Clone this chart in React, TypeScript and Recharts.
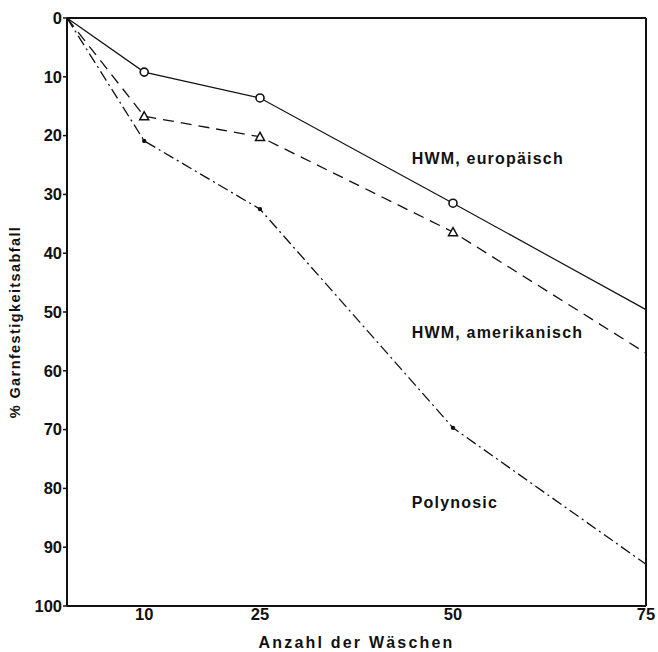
import { LineChart, Line, XAxis, YAxis, ReferenceDot, ReferenceLine, Label } from 'recharts'

const waschen = [0, 10, 25, 50, 75]
const europaeisch = [0, 9.2, 13.6, 31.5, 49.6]
const amerikanisch = [0, 16.7, 20.2, 36.4, 57]
const polynosic = [0, 20.9, 32.5, 69.7, 92.9]

const xTicks = [10, 25, 50, 75]
const yTicks = [0, 10, 20, 30, 40, 50, 60, 70, 80, 90, 100]

const data = waschen.map((w, i) => ({
  w,
  eu: europaeisch[i],
  am: amerikanisch[i],
  po: polynosic[i],
}))

const ink = '#111'
const font = '"Liberation Sans", Arial, sans-serif'

const tickStyle = { fill: ink, fontSize: 16.5, fontWeight: 700, fontFamily: font }
const labelStyle = { fill: ink, fontSize: 16, fontWeight: 700, fontFamily: font, letterSpacing: 1.2 }

// no marker at the origin or on the right border
const hidden = (i: number) => i === 0 || i === waschen.length - 1

const CircleDot = (props: any) => {
  const { cx, cy, index } = props
  if (hidden(index)) return <g key={`c${index}`} />
  return <circle key={`c${index}`} cx={cx} cy={cy} r={4} fill="#fff" stroke={ink} strokeWidth={1.6} />
}

const TriangleDot = (props: any) => {
  const { cx, cy, index } = props
  if (hidden(index)) return <g key={`t${index}`} />
  const s = 4.5
  return (
    <polygon
      key={`t${index}`}
      points={`${cx},${cy - s} ${cx - s},${cy + s * 0.8} ${cx + s},${cy + s * 0.8}`}
      fill="#fff"
      stroke={ink}
      strokeWidth={1.5}
    />
  )
}

const SmallDot = (props: any) => {
  const { cx, cy, index } = props
  if (hidden(index)) return <g key={`p${index}`} />
  return <circle key={`p${index}`} cx={cx} cy={cy} r={2.2} fill={ink} />
}

// rotated y title at the far left
const YTitle = (props: any) => {
  const vb = props.viewBox || {}
  const x = 15
  const y = (vb.y ?? 0) + (vb.height ?? 0) / 2 + 10
  return (
    <text
      x={x}
      y={y}
      transform={`rotate(-90 ${x} ${y})`}
      textAnchor="middle"
      dominantBaseline="central"
      style={{ fill: ink, fontSize: 14.5, fontWeight: 700, fontFamily: font, letterSpacing: 1.4 }}
    >
      % Garnfestigkeitsabfall
    </text>
  )
}

export default function App() {
  return (
    <div style={{ width: 658, height: 652 }}>
      <style>{'body{margin:0}'}</style>
      <LineChart width={658} height={652} data={data} margin={{ top: 18, right: 12, bottom: 0, left: 8 }}>
        <XAxis
          dataKey="w"
          type="number"
          domain={[0, 75]}
          ticks={xTicks}
          tickLine={false}
          tickSize={0}
          tick={tickStyle}
          axisLine={{ stroke: ink, strokeWidth: 2 }}
          height={46}
          interval={0}
        >
          <Label
            value="Anzahl der Wäschen"
            position="insideBottom"
            offset={4}
            style={{ ...labelStyle, letterSpacing: 2.2 }}
          />
        </XAxis>
        <YAxis
          type="number"
          domain={[0, 100]}
          reversed
          ticks={yTicks}
          interval={0}
          tick={tickStyle}
          tickSize={4}
          tickMargin={1}
          tickLine={{ stroke: ink, strokeWidth: 1.5 }}
          axisLine={{ stroke: ink, strokeWidth: 2 }}
          width={59}
        >
          <Label content={YTitle} />
        </YAxis>
        <ReferenceLine y={0} stroke={ink} strokeWidth={2} />
        <ReferenceLine x={75} stroke={ink} strokeWidth={2} />
        <Line
          dataKey="eu"
          type="linear"
          stroke={ink}
          strokeWidth={1.2}
          dot={CircleDot}
          activeDot={false}
          isAnimationActive={false}
        />
        <Line
          dataKey="am"
          type="linear"
          stroke={ink}
          strokeWidth={1.3}
          strokeDasharray="11 7"
          dot={TriangleDot}
          activeDot={false}
          isAnimationActive={false}
        />
        <Line
          dataKey="po"
          type="linear"
          stroke={ink}
          strokeWidth={1.3}
          strokeDasharray="11 4 2 4"
          dot={SmallDot}
          activeDot={false}
          isAnimationActive={false}
        />
        <ReferenceDot x={44} y={23.8} r={0} ifOverflow="visible">
          <Label value="HWM, europäisch" position="right" offset={5} style={labelStyle} />
        </ReferenceDot>
        <ReferenceDot x={44} y={53.4} r={0} ifOverflow="visible">
          <Label value="HWM, amerikanisch" position="right" offset={5} style={labelStyle} />
        </ReferenceDot>
        <ReferenceDot x={44} y={82.3} r={0} ifOverflow="visible">
          <Label value="Polynosic" position="right" offset={5} style={labelStyle} />
        </ReferenceDot>
      </LineChart>
    </div>
  )
}
